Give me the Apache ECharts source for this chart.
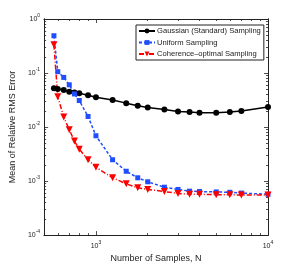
<!DOCTYPE html>
<html><head><meta charset="utf-8">
<script src="https://cdn.jsdelivr.net/npm/echarts@6/dist/echarts.min.js"></script>
<style>html,body{margin:0;padding:0;background:#fff}#c{width:297px;height:268px}</style>
</head><body><div id="c"></div>
<script>
const samplesN = [570, 600, 650, 700, 750, 800, 900, 1000, 1250, 1500, 1750, 2000, 2500, 3000, 3500, 4000, 5000, 6000, 7000, 10000];
const gaussian = [0.052, 0.0505, 0.0484, 0.0451, 0.0436, 0.0421, 0.0388, 0.0356, 0.0318, 0.0277, 0.0247, 0.023, 0.0212, 0.0194, 0.019, 0.0184, 0.0184, 0.019, 0.0198, 0.0234];
const uniform = [0.49, 0.106, 0.083, 0.0605, 0.041, 0.031, 0.0157, 0.0069, 0.00248, 0.00152, 0.00115, 0.00097, 0.00077, 0.0007, 0.00065, 0.00064, 0.00063, 0.00062, 0.0006, 0.00057];
const coherence = [0.335, 0.0365, 0.0153, 0.0089, 0.0055, 0.0039, 0.00248, 0.0018, 0.00115, 0.00089, 0.00075, 0.0007, 0.00064, 0.00059, 0.00057, 0.00057, 0.00056, 0.00056, 0.00055, 0.00055];
const seriesNames = ['Gaussian (Standard) Sampling', 'Uniform Sampling', 'Coherence\u2013optimal Sampling'];
const xMajorTicks = [1000, 10000];
const xMinorTicks = [500, 600, 700, 800, 900, 2000, 3000, 4000, 5000, 6000, 7000, 8000, 9000];
const yMajorTicks = [0.0001, 0.001, 0.01, 0.1, 1];
const yMinorTicks = [];
[0.0001, 0.001, 0.01, 0.1].forEach(d => { for (let k = 2; k <= 9; k++) yMinorTicks.push(+(d * k).toPrecision(3)); });

const xLabel = 'Number of Samples, N';
const yLabel = 'Mean of Relative RMS Error';

const font = 'Liberation Sans, Arial, sans-serif';
const supFmt = v => '{b|10}{s|' + Math.round(Math.log10(v)) + '}';
const richLab = { b: { fontSize: 7, fontFamily: font, color: '#222' }, s: { fontSize: 5, fontFamily: font, color: '#222', padding: [0, 0, 6, 0] } };

function xAx(pos, ticks, len, labels) {
  return {
    type: 'log', position: pos, min: 500, max: 10000, logBase: 10,
    axisLine: { show: true, lineStyle: { color: '#222', width: 1 } },
    axisTick: { show: true, inside: true, length: len, customValues: ticks, lineStyle: { color: '#222', width: 0.8 } },
    axisLabel: labels ? { show: true, customValues: ticks, formatter: supFmt, rich: richLab, margin: 5 } : { show: false },
    splitLine: { show: false },
    name: labels ? xLabel : '', nameLocation: 'middle', nameGap: 13,
    nameTextStyle: { fontSize: 9, fontFamily: font, color: '#222' }
  };
}
function yAx(pos, ticks, len, labels) {
  return {
    type: 'log', position: pos, min: 0.0001, max: 1, logBase: 10,
    axisLine: { show: true, lineStyle: { color: '#222', width: 1 } },
    axisTick: { show: true, inside: true, length: len, customValues: ticks, lineStyle: { color: '#222', width: 0.8 } },
    axisLabel: labels ? { show: true, customValues: ticks, formatter: supFmt, rich: richLab, margin: 4 } : { show: false },
    splitLine: { show: false },
    name: labels ? yLabel : '', nameLocation: 'middle', nameGap: 16, nameRotate: 90,
    nameTextStyle: { fontSize: 9, fontFamily: font, color: '#222' }
  };
}

const chart = echarts.init(document.getElementById('c'), null, { renderer: 'canvas' });
const mk = arr => samplesN.map((n, i) => [n, arr[i]]);
chart.setOption({
  animation: false,
  backgroundColor: '#fff',
  grid: { left: 39, right: 29, top: 19, bottom: 30 },
  xAxis: [xAx('bottom', xMajorTicks, 4, true), xAx('bottom', xMinorTicks, 2, false), xAx('top', xMajorTicks, 4, false), xAx('top', xMinorTicks, 2, false)],
  yAxis: [yAx('left', yMajorTicks, 4, true), yAx('left', yMinorTicks, 2, false), yAx('right', yMajorTicks, 4, false), yAx('right', yMinorTicks, 2, false)],
  legend: {
    orient: 'vertical', left: 136, top: 25, itemWidth: 16, itemHeight: 6, itemGap: 3.5,
    padding: [2, 3, 2, 2], backgroundColor: '#fff', borderColor: '#222', borderWidth: 1, borderRadius: 0,
    textStyle: { fontSize: 7.6, fontFamily: font, color: '#222', padding: [0, 0, 0, -3] },
    data: seriesNames
  },
  series: [
    { name: seriesNames[0], type: 'line', data: mk(gaussian), symbol: 'circle', symbolSize: 6,
      itemStyle: { color: '#000' }, lineStyle: { color: '#000', width: 1.5 } },
    { name: seriesNames[1], type: 'line', data: mk(uniform), symbol: 'rect', symbolSize: 5,
      itemStyle: { color: '#1f4dff' }, lineStyle: { color: '#1f4dff', width: 1.5, type: [3, 2] } },
    { name: seriesNames[2], type: 'line', data: mk(coherence), symbol: 'triangle', symbolRotate: 180, symbolSize: 7,
      itemStyle: { color: '#ff0000' }, lineStyle: { color: '#ff0000', width: 1.5, type: [5, 2, 1, 2] } }
  ]
});
</script></body></html>
